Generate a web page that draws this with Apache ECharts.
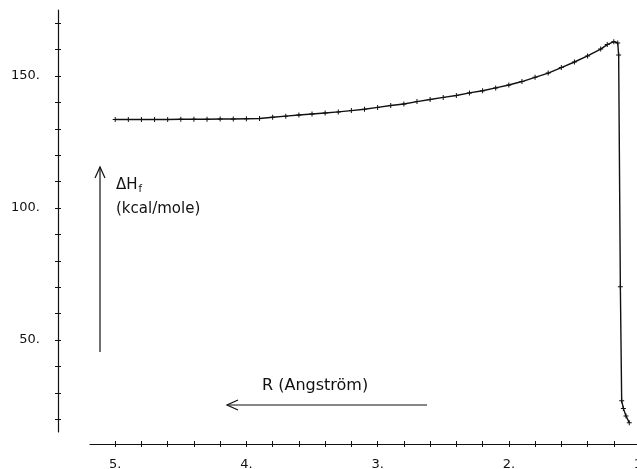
<!DOCTYPE html>
<html>
<head>
<meta charset="utf-8">
<script src="https://cdn.jsdelivr.net/npm/echarts@6/dist/echarts.min.js"></script>
<style>
html,body{margin:0;padding:0;background:#fff;}
#chart{width:637px;height:469px;}
</style>
</head>
<body>
<div id="chart"></div>
<script>
// R (Angstrom) sample positions of the computed curve
const rValues = [5.0,4.9,4.8,4.7,4.6,4.5,4.4,4.3,4.2,4.1,4.0,
  3.9,3.8,3.7,3.6,3.5,3.4,3.3,3.2,3.1,3.0,
  2.9,2.8,2.7,2.6,2.5,2.4,2.3,2.2,2.1,2.0,
  1.9,1.8,1.7,1.6,1.5,1.4,1.3,1.25,1.2,1.17,
  1.163,1.15,1.14,1.127,1.107,1.082];
// Heat of formation (kcal/mole)
const dHf = [133.5,133.5,133.5,133.5,133.5,133.6,133.6,133.6,133.7,133.7,133.8,
  133.9,134.4,134.8,135.2,135.6,136.0,136.4,136.9,137.4,138.1,
  138.8,139.4,140.3,141.1,141.9,142.6,143.6,144.4,145.5,146.6,
  147.9,149.5,151.1,153.2,155.3,157.6,160.2,161.9,163.0,162.5,
  158.0,70.2,27.0,24.1,21.2,18.7];
// Axis ticks and labels
const xTicks = [1.0,1.2,1.4,1.6,1.8,2.0,2.2,2.4,2.6,2.8,3.0,3.2,3.4,3.6,3.8,4.0,4.2,4.4,4.6,4.8,5.0];
const xLabels = [1,2,3,4,5];
const yTicks = [20,30,40,50,60,70,80,90,100,110,120,130,140,150,160,170];
const yLabels = [50,100,150];

const seriesData = rValues.map((r,i)=>[r, dHf[i]]);

const INK = '#111';
const FONT = 'DejaVu Sans';
const chart = echarts.init(document.getElementById('chart'), null, {renderer:'canvas'});

const xCommon = {
  type:'value', gridIndex:0, inverse:true, min:0.95, max:5.192,
  position:'bottom',
  splitLine:{show:false}
};
const yCommon = {
  type:'value', gridIndex:1, min:15.15, max:175, position:'left', splitLine:{show:false}
};

chart.setOption({
  animation:false,
  backgroundColor:'#fff',
  grid:[
    {left:90, width:556.6, top:10, height:434, outerBoundsMode:'none', containLabel:false},
    {left:58, width:20, top:10, height:422, outerBoundsMode:'none', containLabel:false}
  ],
  xAxis:[
    Object.assign({}, xCommon, {
      axisLine:{show:true, onZero:false, lineStyle:{color:INK, width:1.2}},
      axisTick:{show:true, customValues:xTicks, length:3, inside:false, lineStyle:{color:INK, width:1}},
      axisLabel:{show:true, customValues:xLabels, formatter:v=>v+'.', margin:14.5,
        color:INK, fontFamily:FONT, fontSize:13}
    }),
    Object.assign({}, xCommon, {
      axisLine:{show:false, onZero:false},
      axisTick:{show:true, customValues:xTicks, length:3, inside:true, lineStyle:{color:INK, width:1}},
      axisLabel:{show:false}
    }),
    {type:'value', gridIndex:1, show:false, min:0, max:1}
  ],
  yAxis:[
    {type:'value', gridIndex:0, min:10.606, max:175, show:false, splitLine:{show:false}},
    Object.assign({}, yCommon, {
      axisLine:{show:true, onZero:false, lineStyle:{color:INK, width:1.2}},
      axisTick:{show:true, customValues:yTicks, length:3, inside:false, lineStyle:{color:INK, width:1}},
      axisLabel:{show:true, customValues:yLabels, formatter:v=>v+'.', margin:18,
        color:INK, fontFamily:FONT, fontSize:13}
    }),
    Object.assign({}, yCommon, {
      axisLine:{show:false, onZero:false},
      axisTick:{show:true, customValues:yTicks, length:3, inside:true, lineStyle:{color:INK, width:1}},
      axisLabel:{show:false}
    })
  ],
  series:[{
    type:'line', xAxisIndex:0, yAxisIndex:0, data:seriesData,
    symbol:'path://M-0.6,-3H0.6V-0.6H3V0.6H0.6V3H-0.6V0.6H-3V-0.6H-0.6Z',
    symbolSize:5, showSymbol:true,
    itemStyle:{color:INK},
    lineStyle:{color:INK, width:1.4},
    clip:true
  }],
  graphic:[
    // vertical arrow for dHf
    {type:'line', shape:{x1:100, y1:352, x2:100, y2:167}, style:{stroke:INK, lineWidth:1.2}},
    {type:'polyline', shape:{points:[[95,178],[100,167],[105,178]]}, style:{stroke:INK, lineWidth:1.2, fill:null}},
    {type:'text', left:116, top:178, style:{
      text:'{a|\u0394H}{s|f}', fill:INK,
      rich:{a:{fontFamily:FONT, fontSize:15, fill:INK}, s:{fontFamily:FONT, fontSize:10, fill:INK, padding:[8,0,0,1]}}
    }},
    {type:'text', left:116, top:202, style:{text:'(kcal/mole)', fill:INK, fontFamily:FONT, fontSize:15}},
    // horizontal arrow for R
    {type:'line', shape:{x1:227, y1:405, x2:427, y2:405}, style:{stroke:INK, lineWidth:1.2}},
    {type:'polyline', shape:{points:[[238,400],[227,405],[238,410]]}, style:{stroke:INK, lineWidth:1.2, fill:null}},
    {type:'text', left:262, top:378, style:{text:'R (Angstr\u00f6m)', fill:INK, fontFamily:FONT, fontSize:16}}
  ]
});
</script>
</body>
</html>
